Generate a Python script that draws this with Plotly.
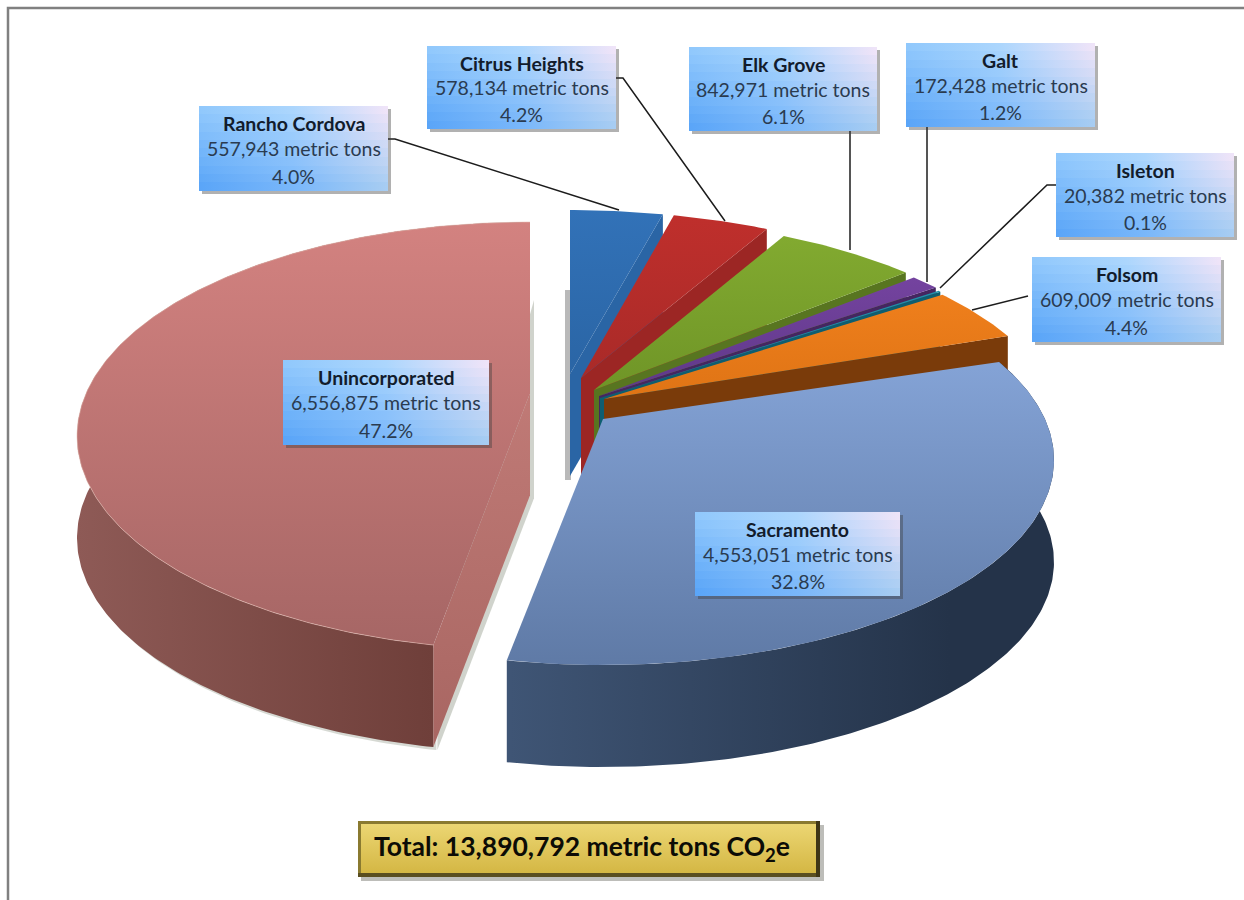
import math
import plotly.graph_objects as go

# ---------- data ----------
names = ["Rancho Cordova", "Citrus Heights", "Elk Grove", "Galt", "Isleton",
         "Folsom", "Sacramento", "Unincorporated"]
tons = [557943, 578134, 842971, 172428, 20382, 609009, 4553051, 6556875]
pct_labels = ["4.0%", "4.2%", "6.1%", "1.2%", "0.1%", "4.4%", "32.8%", "47.2%"]
total_label = "Total: 13,890,792 metric tons CO<sub>2</sub>e"

# ---------- styling ----------
FONT = "Lato"
A, E, DEPTH = 453.0, 0.2, 102.0
# explosion placement per slice: ellipse centre x, ellipse top y, minor radius, major radius
place = {
    "Rancho Cordova": (570, 210, 205, A), "Citrus Heights": (581, 211, 205, A),
    "Elk Grove": (598, 218, 205, A), "Galt": (606, 223, 205, A), "Isleton": (608, 226, 205, A),
    "Folsom": (610, 229, 205, A), "Sacramento": (603, 255, 205, 451), "Unincorporated": (530, 222, 214, A),
}
apex = {  # where the slice's point sits once exploded
    "Citrus Heights": (581, 378), "Elk Grove": (594, 390), "Galt": (599, 396),
    "Isleton": (600, 398), "Folsom": (604, 399),
}
top_col = {
    "Rancho Cordova": ("#3272b8", "#2a65a5"), "Citrus Heights": ("#bf2f2c", "#a92a28"),
    "Elk Grove": ("#82aa30", "#6f9527"), "Galt": ("#74439f", "#5e3888"),
    "Isleton": ("#1f93aa", "#1a8096"), "Folsom": ("#ef7f1c", "#df7415"),
    "Sacramento": ("#84a3d6", "#5f7aa6"), "Unincorporated": ("#d38280", "#a66665"),
}
wall_col = {
    "Rancho Cordova": "#2a65a5", "Citrus Heights": "#9c2624", "Elk Grove": "#587520",
    "Galt": "#452660", "Isleton": "#0e5e70", "Folsom": "#7a3b0a",
}
boxes = {  # x0, x1, y0, y1 in page pixels
    "Rancho Cordova": (199, 388, 106, 191), "Citrus Heights": (427, 616, 46, 129),
    "Elk Grove": (689, 877, 47, 131), "Galt": (906, 1095, 43, 127),
    "Isleton": (1056, 1234, 153, 237), "Folsom": (1032, 1221, 257, 342),
    "Sacramento": (695, 900, 512, 596), "Unincorporated": (283, 489, 360, 445),
}
leaders = {
    "Rancho Cordova": ([388, 395, 619], [139, 139, 210]),
    "Citrus Heights": ([616, 623, 725], [78, 78, 221]),
    "Elk Grove": ([850, 850], [131, 250]),
    "Galt": ([927, 927], [127, 282]),
    "Isleton": ([1056, 1047, 940], [185, 185, 288]),
    "Folsom": ([1028, 972], [296, 310]),
}

# ---------- geometry from the values ----------
total = sum(tons)
spans, acc = {}, 0.0
for n, v in zip(names, tons):
    spans[n] = (acc / total * 360.0, (acc + v) / total * 360.0)
    acc += v


def project(theta_deg, name):
    ex, top, b, a = place[name]
    t = math.radians(theta_deg)
    u, v = math.sin(t), math.cos(t)
    w = 1 + E * v
    return ex + a * u * math.sqrt(1 - E * E) / w, top + b - b * (v + E) / w


def tip(name):
    if name in apex:
        return apex[name]
    ex, top, b, _ = place[name]
    return ex, top + b - b * E


def arc(name):
    a0, a1 = spans[name]
    n = max(3, int((a1 - a0) * 1.5))
    pts = [project(a0 + (a1 - a0) * i / n, name) for i in range(n + 1)]
    return [p[0] for p in pts], [p[1] for p in pts]


fig = go.Figure()


def poly(xs, ys, color=None, grad=None):
    kw = dict(x=list(xs) + [xs[0]], y=list(ys) + [ys[0]], mode="lines", fill="toself",
              line=dict(width=0), hoverinfo="skip", showlegend=False)
    if grad:
        kw["fillgradient"] = grad
        kw["fillcolor"] = "rgba(0,0,0,0)"
    else:
        kw["fillcolor"] = color
    fig.add_trace(go.Scatter(**kw))


def grad(kind, c0, c1, start, stop):
    return dict(type=kind, colorscale=[[0, c0], [1, c1]], start=start, stop=stop)


def hex_rgb(c):
    return tuple(int(c[i:i + 2], 16) for i in (1, 3, 5))


def mix(c0, c1, t):
    a, b = hex_rgb(c0), hex_rgb(c1)
    return "rgb(%d,%d,%d)" % tuple(round(a[i] + (b[i] - a[i]) * t) for i in range(3))


def draw_cut_wall(name, theta):
    tx, ty = tip(name)
    px, py = project(theta, name)
    poly([tx, px, px, tx], [ty, py, py + DEPTH, ty + DEPTH], wall_col[name])


def draw_top(name):
    ax, ay = arc(name)
    tx, ty = tip(name)
    c_top, c_bot = top_col[name]
    xs, ys = [tx] + ax, [ty] + ay
    poly(xs, ys, grad=grad("vertical", c_top, c_bot, min(ys), max(ys)))


def draw_callout_fill(x0, x1, y0, y1):
    # Diagonal sheen: stacked strips, each a left-to-right gradient
    strips = 10
    for i in range(strips):
        t = i / (strips - 1)
        ya = y0 + round((y1 - y0) * i / strips)
        yb = y0 + round((y1 - y0) * (i + 1) / strips)
        left = mix("#90c8fc", "#5aa5f8", t)
        mid = mix("#acd6fd", "#79b7fa", t)
        right = mix("#f0e4f8", "#a8cdf2", t)
        fig.add_trace(go.Scatter(
            x=[x0, x1, x1, x0, x0], y=[ya, ya, yb, yb, ya], mode="lines", fill="toself",
            line=dict(width=0), hoverinfo="skip", showlegend=False, fillcolor="rgba(0,0,0,0)",
            fillgradient=dict(type="horizontal", colorscale=[[0, left], [0.5, mid], [1, right]],
                              start=x0, stop=x1)))


# Shadow strip behind the blue slice
poly([565, 571, 571, 565], [290, 290, 480, 480], "#b9b9b9")

# Back slices, painted clockwise so each overlaps the one before it
for name in names[:6]:
    draw_cut_wall(name, spans[name][1])
    draw_top(name)

# Unincorporated: soft shadow, outer wall, cut wall, top
name = "Unincorporated"
ax, ay = arc(name)
tx, ty = tip(name)
keep = int(len(ax) * 0.56)
sx, sy = ax[:keep], ay[:keep]
poly([x + 3 for x in sx] + [x + 3 for x in sx[::-1]],
     [y + 3 for y in sy] + [y + DEPTH + 3 for y in sy[::-1]], "rgba(120,130,110,0.30)")
fx, fy = project(spans[name][0], name)
poly([tx + 4, fx + 4, fx + 4, tx + 4], [300, fy, fy + DEPTH + 3, ty + DEPTH + 3], "rgba(120,130,110,0.35)")
poly(ax + ax[::-1], ay + [y + DEPTH for y in ay[::-1]],
     grad=grad("horizontal", "#6f3f3a", "#8e5a56", 432, 78))
poly([tx, fx, fx, tx], [ty, fy, fy + DEPTH, ty + DEPTH],
     grad=grad("vertical", "#c07a76", "#a86662", ty, fy + DEPTH))
draw_top(name)
fig.add_trace(go.Scatter(x=ax, y=ay, mode="lines", line=dict(color="rgba(232,190,180,0.55)", width=1),
                         hoverinfo="skip", showlegend=False))

# Sacramento: outer wall and top
name = "Sacramento"
ax, ay = arc(name)
poly(ax + ax[::-1], ay + [y + DEPTH for y in ay[::-1]],
     grad=grad("horizontal", "#3f5575", "#243349", 510, 950))
draw_top(name)

# Leader lines
for name, (lx, ly) in leaders.items():
    fig.add_trace(go.Scatter(x=lx, y=ly, mode="lines", line=dict(color="#1c1c1c", width=1.5),
                             hoverinfo="skip", showlegend=False))

# Callout boxes
for name, v, pct in zip(names, tons, pct_labels):
    x0, x1, y0, y1 = boxes[name]
    poly([x0 + 3, x1 + 3, x1 + 3, x0 + 3], [y0 + 3, y0 + 3, y1 + 3, y1 + 3], "rgba(60,60,60,0.40)")
    draw_callout_fill(x0, x1, y0, y1)
    cx = (x0 + x1) / 2
    cy = (y0 + y1) / 2
    fig.add_annotation(x=cx, y=y0 + 17, text=f"<b>{name}</b>", showarrow=False,
                       font=dict(family=FONT, size=19.5, color="#121c2c"))
    fig.add_annotation(x=cx, y=cy, text=f"{v:,} metric tons", showarrow=False,
                       font=dict(family=FONT, size=19.5, color="#2a3b50"))
    fig.add_annotation(x=cx, y=y1 - 15, text=pct, showarrow=False,
                       font=dict(family=FONT, size=19.5, color="#2a3b50"))

# Total box
poly([361, 824, 824, 361], [825, 825, 881, 881], "rgba(90,90,80,0.40)")
poly([358, 820, 820, 358], [821, 821, 877, 877], "#8a7a30")
poly([358, 820, 820, 358], [873, 873, 877, 877], "#5a4e20")
poly([816, 820, 820, 816], [821, 821, 877, 877], "#3f3616")
poly([361, 816, 816, 361], [824, 824, 873, 873],
     grad=grad("vertical", "#ecd673", "#d4b744", 824, 873))
fig.add_annotation(x=372, y=848, xanchor="left", text=f"<b>{total_label}</b>", showarrow=False,
                   font=dict(family=FONT, size=26.5, color="#0c0c06"))

# Page frame: top and left rules
frame_x = [8, 8, 1244]
frame_y = [900, 8, 8]
fig.add_trace(go.Scatter(x=frame_x, y=frame_y, mode="lines", line=dict(color="#808080", width=2.5),
                         hoverinfo="skip", showlegend=False))

fig.update_layout(
    width=1244, height=900, margin=dict(l=0, r=0, t=0, b=0),
    paper_bgcolor="white", plot_bgcolor="white", showlegend=False,
    xaxis=dict(range=[0, 1244], visible=False, fixedrange=True),
    yaxis=dict(range=[900, 0], visible=False, fixedrange=True),
)
fig.write_html("out.html", post_script="document.body.style.margin='0';", config={"displayModeBar": False})
